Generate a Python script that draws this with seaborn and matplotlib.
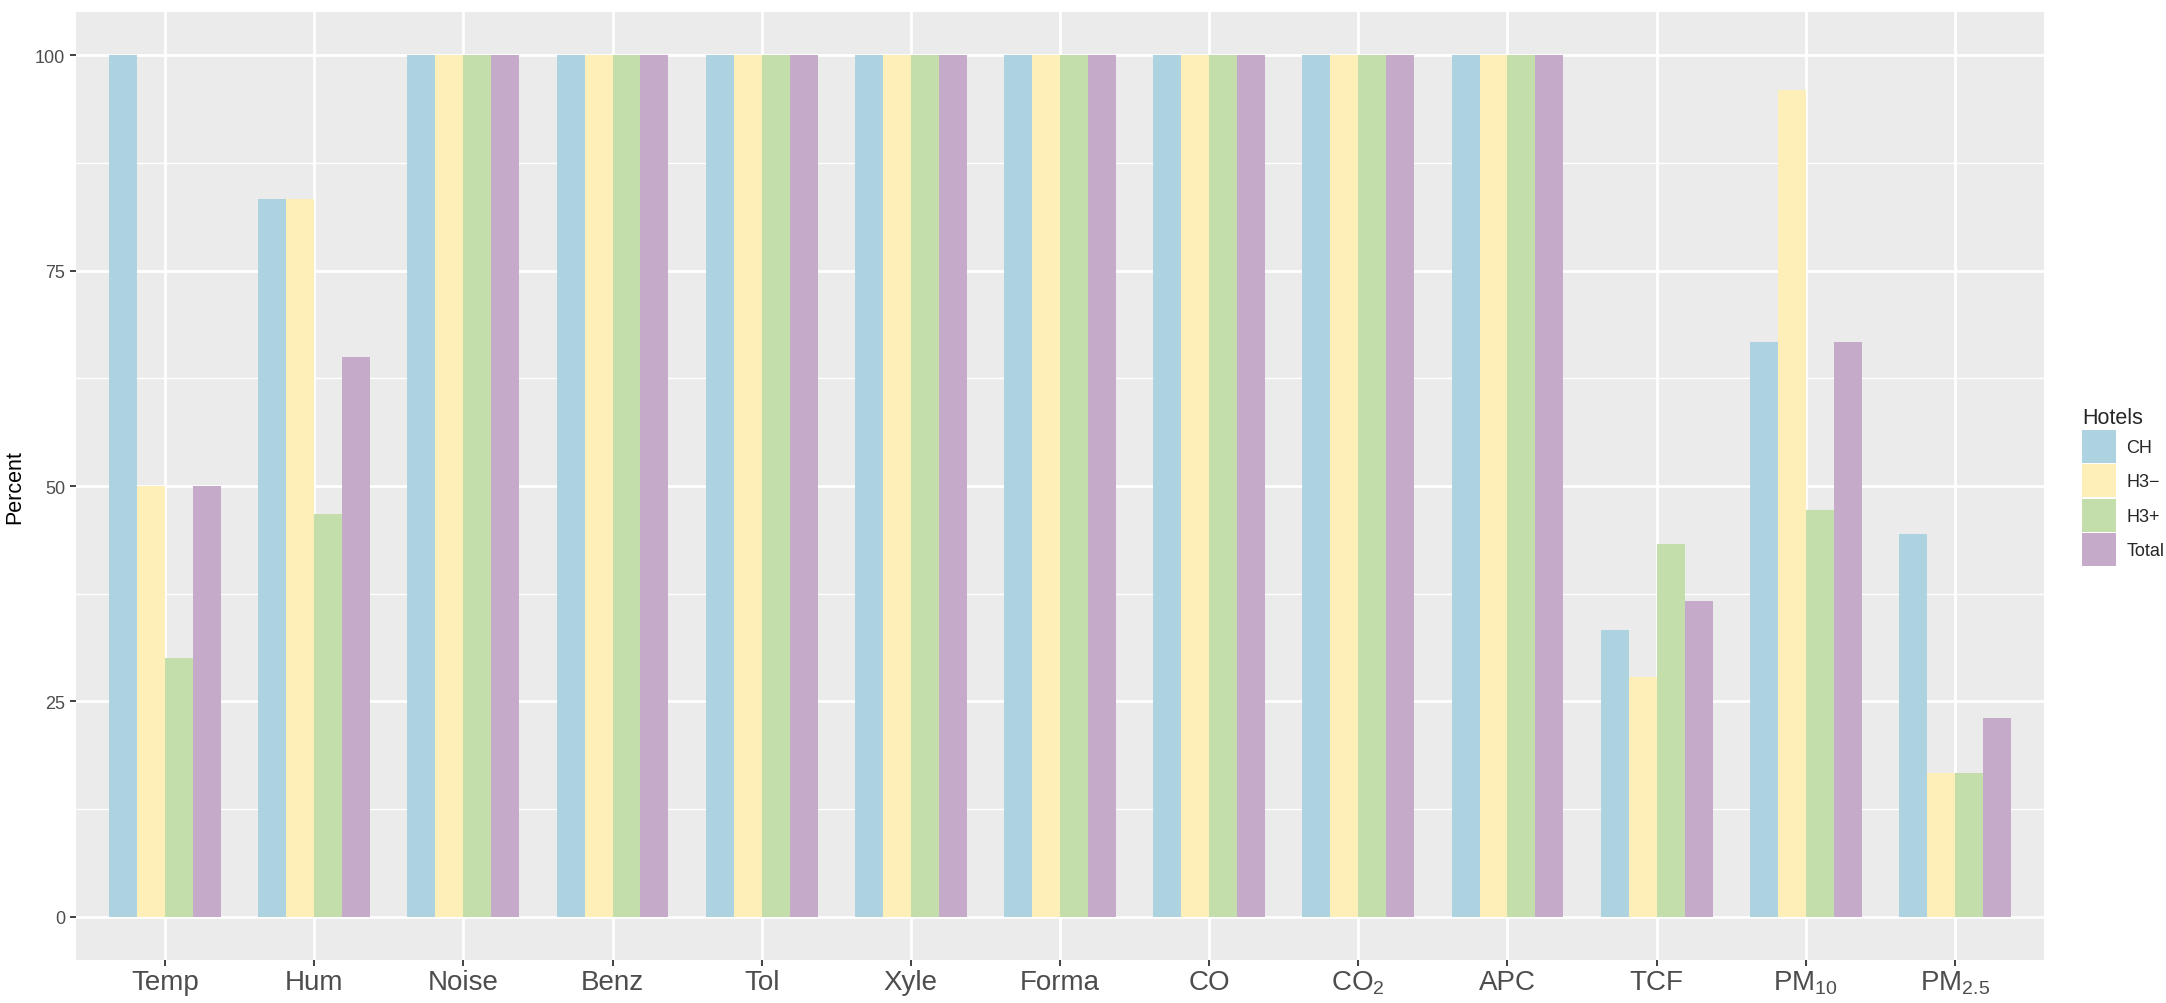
import pandas as pd
import matplotlib
matplotlib.use("Agg")
import matplotlib.pyplot as plt
import seaborn as sns
from matplotlib.ticker import MultipleLocator

# Percent of samples within limits, by parameter and hotel group
params = ["Temp", "Hum", "Noise", "Benz", "Tol", "Xyle", "Forma", "CO",
          "$\\mathregular{CO_2}$", "APC", "TCF",
          "$\\mathregular{PM_{10}}$", "$\\mathregular{PM_{2.5}}$"]
hotels = ["CH", "H3\u2212", "H3+", "Total"]

ch    = [100, 83.3, 100, 100, 100, 100, 100, 100, 100, 100, 33.3, 66.7, 44.4]
h3m   = [50, 83.3, 100, 100, 100, 100, 100, 100, 100, 100, 27.8, 96.0, 16.7]
h3p   = [30, 46.7, 100, 100, 100, 100, 100, 100, 100, 100, 43.3, 47.2, 16.7]
total = [50, 65.0, 100, 100, 100, 100, 100, 100, 100, 100, 36.7, 66.7, 23.1]

colors = ["#ADD3E0", "#FEEEB8", "#C4DEAB", "#C6AAC9"]

rows = []
for h, vals in zip(hotels, [ch, h3m, h3p, total]):
    for p, v in zip(params, vals):
        rows.append({"Parameter": p, "Hotels": h, "Percent": v})
df = pd.DataFrame(rows)

sns.set_theme(style="darkgrid")
plt.rcParams['font.family'] = ['Liberation Sans', 'DejaVu Sans']

fig = plt.figure(figsize=(21.66, 10.04), dpi=100)
ax = fig.add_axes([0.03486, 0.04283, 0.90904, 0.94422])

sns.barplot(data=df, x="Parameter", y="Percent", hue="Hotels",
            order=params, hue_order=hotels, palette=colors,
            width=0.75, gap=0, saturation=1, linewidth=0, ax=ax)

ax.set_facecolor("#EBEBEB")
ax.set_axisbelow(True)
for s in ax.spines.values():
    s.set_visible(False)

ax.set_xlim(-0.6, len(params) - 0.4)
ax.set_ylim(-5, 105)
ax.yaxis.set_major_locator(MultipleLocator(25))
ax.yaxis.set_minor_locator(MultipleLocator(12.5))
ax.grid(which="major", color="white", linewidth=2.0)
ax.grid(which="minor", axis="y", color="white", linewidth=1.0)
ax.grid(which="major", axis="x", color="white", linewidth=2.0)

ax.tick_params(axis="y", which="major", labelsize=13, labelcolor="#4D4D4D",
               length=4.3, width=1.3, color="#333333", pad=3, left=True)
ax.tick_params(axis="y", which="minor", length=0)
ax.tick_params(axis="x", labelsize=20, labelcolor="#4D4D4D",
               length=4.3, width=1.3, color="#333333", pad=2, bottom=True)

ax.set_xlabel("")
ax.set_ylabel("Percent", fontsize=15.5, color="black")
ax.yaxis.set_label_coords(-0.0256, 0.5)

ax.get_legend().remove()
leg = fig.legend(*ax.get_legend_handles_labels(), title="Hotels",
                 loc="center left", bbox_to_anchor=(0.958, 0.514),
                 frameon=False, fontsize=13, title_fontsize=15.5,
                 handlelength=1.85, handleheight=2.44, labelspacing=0.08,
                 handletextpad=0.6, borderaxespad=0)
leg._legend_box.align = "left"

fig.savefig("out.png", dpi=100)
